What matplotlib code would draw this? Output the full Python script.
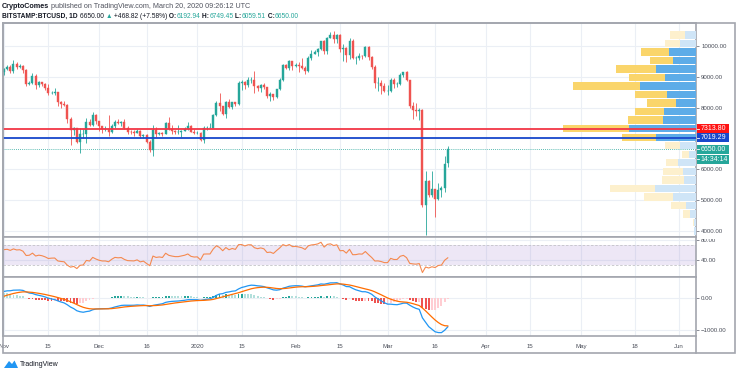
import numpy as np
import pandas as pd
import matplotlib
matplotlib.use("Agg")
import matplotlib.pyplot as plt
import matplotlib.dates as mdates
from matplotlib.lines import Line2D
from matplotlib.patches import Rectangle, Polygon
from matplotlib.transforms import Bbox, TransformedBbox

W, H = 736, 374

# Sep-Oct 2019 closes: off screen, only used to warm up RSI / MACD
warmup_close = [
    9630, 10380, 10620, 10580, 10580, 10320, 10490, 10400, 10330, 10110,
    10160, 10420, 10360, 10350, 10300, 10240, 10190, 10160, 10280, 10170,
    9980, 10030, 9690, 8530, 8430, 8060, 8200, 8210, 8050, 8300,
    8340, 8390, 8230, 8160, 8150, 7870, 8210, 8200, 8590, 8590,
    8270, 8300, 8290, 8360, 8160, 8000, 8090, 7960, 7960, 8240,
    8230, 8030, 7470, 7440, 8670, 9260, 9550, 9230, 9430, 9190, 9150,
]

# BITSTAMP:BTCUSD daily, 2019-11-01 .. 2020-03-20
first_day = "2019-11-01"
opens = [
    # Nov
    9150, 9250, 9310, 9200, 9420, 9320, 9350, 9220, 8780, 8810,
    9040, 8730, 8820, 8760, 8640, 8460, 8490, 8500, 8180, 8120,
    8080, 7620, 7280, 7330, 6900, 7130, 7160, 7520, 7430, 7760,
    # Dec
    7560, 7400, 7300, 7300, 7200, 7390, 7540, 7500, 7520, 7340,
    7220, 7200, 7190, 7250, 7070, 7110, 6880, 6620, 7290, 7150,
    7190, 7140, 7510, 7320, 7250, 7200, 7200, 7250, 7300, 7390, 7220,
    # Jan
    7170, 7180, 6950, 7340, 7350, 7350, 7760, 8150, 8040, 7810,
    8190, 8020, 8180, 8110, 8810, 8820, 8720, 8900, 8900, 8700,
    8630, 8720, 8660, 8390, 8430, 8330, 8600, 8900, 9380, 9290, 9500,
    # Feb
    9350, 9380, 9340, 9290, 9180, 9620, 9750, 9800, 9900, 10160,
    9850, 10270, 10360, 10240, 10360, 9900, 9930, 9700, 10170, 9600,
    9610, 9690, 9670, 9970, 9650, 9310, 8790, 8800, 8700,
    # Mar
    8530, 8530, 8910, 8760, 8760, 9060, 9150, 8900, 8040, 7940,
    7890, 7940, 4830, 5620, 5170, 5360, 5030, 5340, 5400, 6192.94,
]
highs = [
    9280, 9370, 9370, 9560, 9470, 9430, 9380, 9240, 8880, 9120,
    9080, 8880, 8840, 8790, 8770, 8530, 8640, 8520, 8200, 8210,
    8120, 7710, 7360, 7340, 7340, 7320, 7660, 7620, 7870, 7810,
    7560, 7420, 7400, 7750, 7480, 7590, 7630, 7580, 7640, 7400,
    7270, 7260, 7310, 7280, 7160, 7140, 6940, 7440, 7360, 7220,
    7200, 7520, 7690, 7430, 7280, 7440, 7280, 7370, 7520, 7430, 7320,
    7250, 7210, 7400, 7390, 7500, 7790, 8200, 8460, 8050, 8200,
    8290, 8190, 8190, 8880, 8900, 8850, 9000, 9000, 9180, 8720,
    8770, 8800, 8660, 8520, 8440, 8600, 8970, 9400, 9420, 9560, 9520,
    9440, 9470, 9600, 9350, 9680, 9860, 9870, 9940, 10160, 10180,
    10300, 10460, 10500, 10400, 10380, 10050, 9960, 10250, 10230, 9680,
    9780, 9700, 9990, 10000, 9670, 9380, 8980, 8900, 8800,
    8750, 8950, 8950, 8840, 9120, 9160, 9190, 8900, 8180, 8150,
    7980, 7960, 5950, 5660, 5950, 5370, 5550, 5450, 6420, 6749.45,
]
lows = [
    9060, 9210, 9130, 9110, 9240, 9290, 9120, 8700, 8750, 8770,
    8600, 8680, 8710, 8570, 8420, 8440, 8420, 8070, 8000, 8060,
    7500, 6800, 7120, 6860, 6520, 7030, 6860, 7400, 7420, 7460,
    7230, 7170, 7240, 7080, 7170, 7330, 7480, 7420, 7300, 7150,
    7130, 7080, 7180, 7030, 7030, 6850, 6560, 6430, 7040, 7110,
    7090, 7130, 7270, 7160, 7130, 7160, 7060, 7240, 7270, 7210, 7150,
    7150, 6930, 6870, 7260, 7330, 7350, 7740, 7880, 7760, 7680,
    8000, 7970, 8040, 8100, 8580, 8620, 8670, 8800, 8480, 8530,
    8500, 8600, 8300, 8230, 8260, 8300, 8580, 8880, 9250, 9220, 9220,
    9310, 9170, 9240, 9100, 9160, 9540, 9730, 9680, 9880, 9730,
    9740, 10250, 10100, 10100, 9800, 9500, 9470, 9590, 9570, 9400,
    9560, 9590, 9650, 9530, 9270, 8630, 8550, 8450, 8520,
    8420, 8520, 8650, 8680, 8750, 9010, 8860, 8000, 7630, 7730,
    7600, 4780, 3860, 5100, 5100, 4440, 5000, 5100, 5260, 6059.51,
]
closes = [
    9250, 9310, 9200, 9420, 9320, 9350, 9220, 8780, 8810, 9040,
    8730, 8820, 8760, 8640, 8460, 8490, 8500, 8180, 8120, 8080,
    7620, 7280, 7330, 6900, 7130, 7160, 7520, 7430, 7760, 7560,
    7400, 7300, 7300, 7200, 7390, 7540, 7500, 7520, 7340, 7220,
    7200, 7190, 7250, 7070, 7110, 6880, 6620, 7290, 7150, 7190,
    7140, 7510, 7320, 7250, 7200, 7200, 7250, 7300, 7390, 7220, 7170,
    7180, 6950, 7340, 7350, 7350, 7760, 8150, 8040, 7810, 8190,
    8020, 8180, 8110, 8810, 8820, 8720, 8900, 8900, 8700, 8630,
    8720, 8660, 8390, 8430, 8330, 8600, 8900, 9380, 9290, 9500, 9350,
    9380, 9340, 9290, 9180, 9620, 9750, 9800, 9900, 10160, 9850,
    10270, 10360, 10240, 10360, 9900, 9930, 9700, 10170, 9600, 9610,
    9690, 9670, 9970, 9650, 9310, 8790, 8800, 8700, 8530,
    8530, 8910, 8760, 8760, 9060, 9150, 8900, 8040, 7940, 7890,
    7940, 4830, 5620, 5170, 5360, 5030, 5340, 5400, 6181.18, 6650.00,
]

# visible range volume profile, 24 rows, listed top row first (relative volume)
vp_down = [15, 15, 28, 23, 40, 36, 67, 32, 29, 29, 35, 66,
           34, 15, 7, 12, 20, 22, 45, 29, 15, 7, 1, 0]
vp_up = [11, 16, 27, 23, 40, 31, 56, 29, 20, 32, 33, 67,
         40, 16, 7, 18, 13, 12, 41, 23, 10, 6, 2, 2]
vp_value_area = [False, False, True, True, True, True, True, True, True, True,
                 True, True, True, False, False, False, False, False, False,
                 False, False, False, False, False]

level_red = 7313.80
level_blue = 7019.29
countdown = "14:34:14"

# 7000 keeps its grid line but its label sits under the level boxes
price_ticks = [4000, 5000, 6000, 7000, 8000, 9000, 10000]
price_tick_labels = ["4000.00", "5000.00", "6000.00", "", "8000.00",
                     "9000.00", "10000.00"]
rsi_ticks = [40, 80]
macd_ticks = [-1000, 0]
time_ticks = ["2019-11-01", "2019-11-15", "2019-12-01", "2019-12-16",
              "2020-01-01", "2020-01-15", "2020-02-01", "2020-02-15",
              "2020-03-01", "2020-03-16", "2020-04-01", "2020-04-15",
              "2020-05-01", "2020-05-18", "2020-06-01"]
time_labels = ["Nov", "15", "Dec", "16", "2020", "15", "Feb", "15",
               "Mar", "16", "Apr", "15", "May", "18", "Jun"]

UP = "#26A69A"
DOWN = "#EF5350"
GRID = "#EBEFF5"
FRAME = "#A3A6AE"
TXT = "#131722"
AXTXT = "#4A4E59"

plt.rcParams["font.family"] = ["Liberation Sans", "DejaVu Sans"]

# ---- indicators (RSI 14, MACD 12/26/9) from the closes
n_warm = len(warmup_close)
all_close = pd.Series(warmup_close + closes, dtype=float)
delta = all_close.diff()
gain = delta.clip(lower=0).ewm(alpha=1 / 14, adjust=False).mean()
loss = (-delta.clip(upper=0)).ewm(alpha=1 / 14, adjust=False).mean()
rsi_all = 100 - 100 / (1 + gain / loss)
macd_all = (all_close.ewm(span=12, adjust=False).mean()
            - all_close.ewm(span=26, adjust=False).mean())
signal_all = macd_all.ewm(span=9, adjust=False).mean()
hist_all = (macd_all - signal_all).to_numpy()

rsi = rsi_all.to_numpy()[n_warm:]
macd = macd_all.to_numpy()[n_warm:]
signal = signal_all.to_numpy()[n_warm:]
hist = hist_all[n_warm:]
hist_prev = hist_all[n_warm - 1:-1]
hist_col = np.where(hist >= 0,
                    np.where(hist > hist_prev, "#26A69A", "#B2DFDB"),
                    np.where(hist < hist_prev, "#EF5350", "#FFCDD2"))

dates = pd.date_range(first_day, periods=len(closes), freq="D")
x = mdates.date2num(dates)
o, h, l, c = (np.array(a, dtype=float) for a in (opens, highs, lows, closes))
candle_col = np.where(c >= o, UP, DOWN)

dec1 = mdates.date2num(pd.Timestamp("2019-12-01"))
xlim = (dec1 - 30.3, dec1 + 188.3)
tick_x = mdates.date2num(pd.to_datetime(time_ticks))


def fx(px):
    return px / W


def fy(py):
    return 1 - py / H


fig = plt.figure(figsize=(W / 100, H / 100), dpi=100)
fig.patch.set_facecolor("white")


def px_axes(x0, y0, x1, y1):
    return fig.add_axes([fx(x0), fy(y1), (x1 - x0) / W, (y1 - y0) / H])


ax = px_axes(3, 23, 696, 237)
ax_rsi = px_axes(3, 237, 696, 276.5)
ax_macd = px_axes(3, 276.5, 696, 336)

for a in (ax, ax_rsi, ax_macd):
    a.set_xlim(*xlim)
    a.set_xticks(tick_x)
    a.grid(True, color=GRID, lw=0.8)
    a.set_axisbelow(True)
    a.yaxis.tick_right()
    a.tick_params(axis="y", direction="out", length=2.5, width=0.6,
                  color="#787B86", pad=1.2, labelsize=4.4, labelcolor=AXTXT)
    a.tick_params(axis="x", length=0, labelbottom=False)
    for s in a.spines.values():
        s.set_color(FRAME)
        s.set_linewidth(1.2)

# ---- price panel
ax.set_ylim(3805, 10746)
ax.set_yticks(price_ticks)
ax.set_yticklabels(price_tick_labels)
ax.vlines(x, l, h, colors=candle_col, lw=0.6, zorder=2)
ax.bar(x, c - o, bottom=o, width=0.62, color=candle_col,
       edgecolor=candle_col, lw=0.3, zorder=3)
ax.axhline(c[-1], color=UP, lw=0.6, ls=(0, (1, 1.5)), zorder=1)

# volume profile on a twin axis anchored at the right edge
ax_vp = ax.twiny()
edges = np.linspace(l.min(), h.max(), len(vp_up) + 1)
centers = (edges[:-1] + edges[1:]) / 2
row_h = edges[1] - edges[0]
up_v = np.array(vp_up[::-1], dtype=float)
down_v = np.array(vp_down[::-1], dtype=float)
va = np.array(vp_value_area[::-1])
ax_vp.barh(centers, up_v, height=row_h * 0.86, left=0,
           color=np.where(va, "#5DACE8", "#CFE5F7"), lw=0)
ax_vp.barh(centers, down_v, height=row_h * 0.86, left=up_v,
           color=np.where(va, "#FAD56B", "#FDF0CD"), lw=0)
ax_vp.set_xlim((up_v + down_v).max() / 0.192, 0)
ax_vp.axhline(level_red, color="#F23645", lw=1.3)
ax_vp.axhline(level_blue, color="#1848CC", lw=1.3)
ax_vp.set_axis_off()

# ---- RSI panel
ax_rsi.set_ylim(7.5, 85.3)
ax_rsi.set_yticks(rsi_ticks)
ax_rsi.set_yticklabels([f"{v:.2f}" for v in rsi_ticks])
ax_rsi.axhspan(30, 70, color="#9575CD", alpha=0.17, lw=0)
for lvl in (30, 70):
    ax_rsi.axhline(lvl, color="#C3C3C8", lw=0.6, ls=(0, (3, 2)))
ax_rsi.plot(x, rsi, color="#F5894F", lw=0.8)
clip = TransformedBbox(Bbox([[fx(690), fy(276.5)], [fx(736), fy(239)]]),
                       fig.transFigure)
for lbl in ax_rsi.get_yticklabels():
    lbl.set_clip_box(clip)
    lbl.set_clip_on(True)

# ---- MACD panel
ax_macd.set_ylim(-1186, 661)
ax_macd.set_yticks(macd_ticks)
ax_macd.set_yticklabels(["\u22121000.00", "0.00"])
ax_macd.bar(x, hist, width=0.6, color=hist_col, lw=0)
ax_macd.plot(x, macd, color="#2196F3", lw=0.9)
ax_macd.plot(x, signal, color="#FF6D00", lw=0.9)
ax_macd.set_xticklabels(time_labels)
ax_macd.tick_params(axis="x", labelbottom=True, labelsize=4.4,
                    labelcolor=AXTXT, pad=5.8)

# ---- frame of the whole widget
fig.add_artist(Rectangle((fx(3), fy(353)), (735 - 3) / W, (353 - 23) / H,
                         transform=fig.transFigure, fill=False,
                         ec=FRAME, lw=1.2))
fig.add_artist(Line2D([fx(696), fx(696)], [fy(336), fy(353)],
                      transform=fig.transFigure, color=FRAME, lw=1.2))

# ---- price-scale labels
to_fig = fig.transFigure.inverted()


def scale_label(price, text, color, dy_px=0):
    yc = to_fig.transform(ax.transData.transform((xlim[0], price)))[1]
    yc -= dy_px / H
    fig.add_artist(Rectangle((fx(696.5), yc - 4.6 / H), 32 / W, 9.2 / H,
                             transform=fig.transFigure, color=color, lw=0))
    fig.add_artist(Line2D([fx(697), fx(699)], [yc, yc],
                          transform=fig.transFigure, color="white", lw=0.6))
    fig.text(fx(700.5), yc, text, color="white", fontsize=5.0,
             ha="left", va="center")


scale_label(level_red, f"{level_red:.2f}", "#FF1414")
scale_label(level_blue, f"{level_blue:.2f}", "#1848CC")
scale_label(c[-1], f"{c[-1]:.2f}", UP)
scale_label(c[-1], countdown, UP, dy_px=10)

# ---- header
renderer = fig.canvas.get_renderer()


def write_runs(runs, x_px, y_px, size):
    xf = fx(x_px)
    for s, color, weight in runs:
        t = fig.text(xf, fy(y_px), s, color=color, fontsize=size,
                     fontweight=weight, ha="left", va="center")
        bb = t.get_window_extent(renderer)
        xf = to_fig.transform((bb.x1, bb.y0))[0]


chg = c[-1] - c[-2]
pct = chg / c[-2] * 100
write_runs([("CryptoComes", TXT, "bold"),
            (" published on TradingView.com, March 20, 2020 09:26:12 UTC",
             "#50535E", "normal")], 2, 6.5, 5.2)
write_runs([("BITSTAMP:BTCUSD, 1D", TXT, "bold"),
            (f" {c[-1]:.2f} ", TXT, "normal"),
            ("\u25B2", UP, "normal"),
            (f" +{chg:.2f} (+{pct:.2f}%)", TXT, "normal"),
            (" O:", TXT, "bold"), (f"{o[-1]:.2f}", UP, "normal"),
            (" H:", TXT, "bold"), (f"{h[-1]:.2f}", UP, "normal"),
            (" L:", TXT, "bold"), (f"{l[-1]:.2f}", UP, "normal"),
            (" C:", TXT, "bold"), (f"{c[-1]:.2f}", UP, "normal")],
           2, 16.5, 4.75)

# ---- TradingView logo
fig.add_artist(Polygon([(fx(4), fy(368)), (fx(9), fy(361)), (fx(12), fy(364)),
                        (fx(14.5), fy(360.5)), (fx(18), fy(368))],
                       closed=True, transform=fig.transFigure,
                       color="#2196F3", lw=0))
fig.text(fx(19.5), fy(364.5), "TradingView", color=TXT, fontsize=5,
         ha="left", va="center")

fig.savefig("out.png", dpi=100)
